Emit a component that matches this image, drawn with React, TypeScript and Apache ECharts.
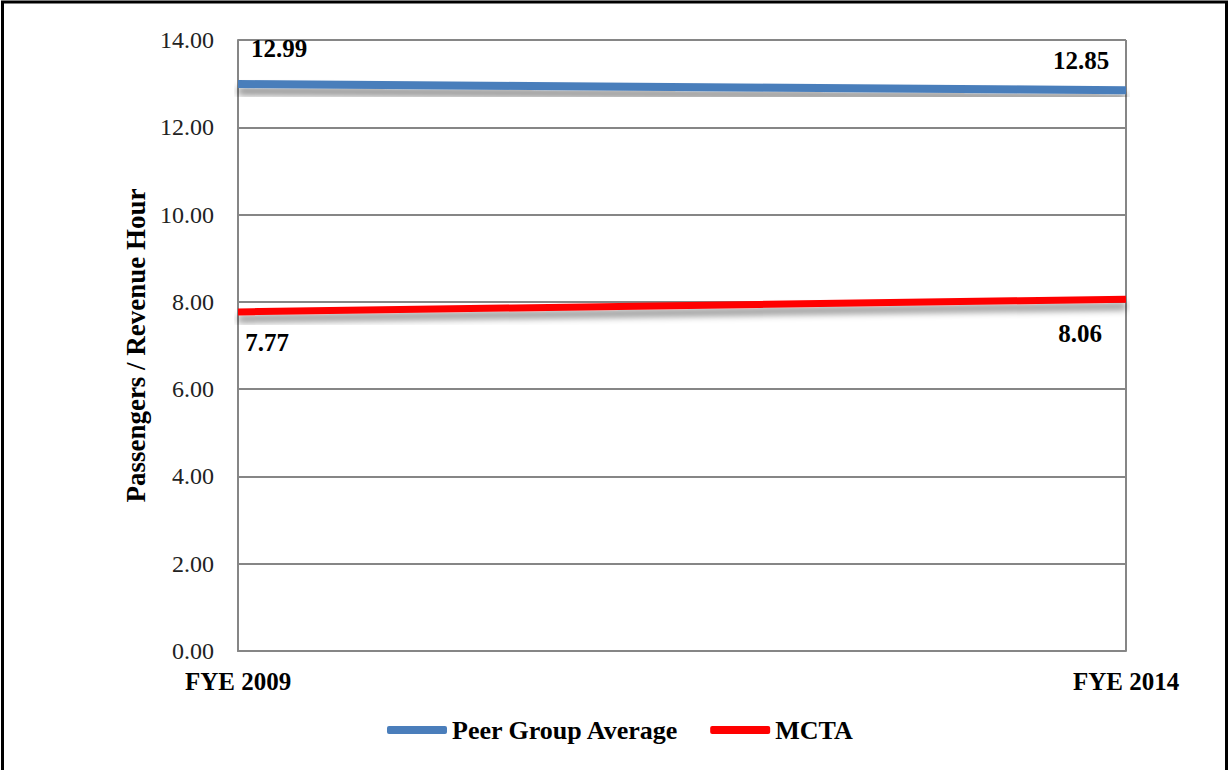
import React, { useEffect, useRef } from "react";
import * as echarts from "echarts";

const categories = ["FYE 2009", "FYE 2014"];
const peerValues = [12.99, 12.85];
const mctaValues = [7.77, 8.06];
const seriesNames = ["Peer Group Average", "MCTA"];
const yAxisTitle = "Passengers / Revenue Hour";

const FONT = "'Liberation Serif', 'Times New Roman', serif";

export default function App() {
  const ref = useRef<HTMLDivElement>(null);
  useEffect(() => {
    document.body.style.margin = "0";
    const chart = echarts.init(ref.current!, null, { renderer: "svg" });
    const shadow = {
      shadowColor: "rgba(0,0,0,0.45)",
      shadowBlur: 7,
      shadowOffsetY: 7,
    };
    const peerOffsets = [
      [41, -36],
      [-45, -30],
    ];
    const mctaOffsets = [
      [29, 31],
      [-46, 34],
    ];
    const lbl = {
      show: true,
      position: "inside",
      fontFamily: FONT,
      fontWeight: "bold",
      fontSize: 25,
      color: "#000",
      formatter: (p: any) => p.value.toFixed(2),
    };
    chart.setOption({
      animation: false,
      backgroundColor: "#fff",
      grid: { left: 238, right: 105, top: 40, bottom: 119 },
      legend: {
        bottom: 22,
        left: 382,
        itemWidth: 60,
        itemHeight: 8,
        itemGap: 31,
        icon: "roundRect",
        textStyle: { fontFamily: FONT, fontWeight: "bold", fontSize: 26, color: "#000" },
        data: seriesNames,
      },
      xAxis: {
        type: "category",
        data: categories,
        boundaryGap: false,
        axisLine: { lineStyle: { color: "#868686", width: 2 } },
        axisTick: { show: false },
        splitLine: { show: true, lineStyle: { color: "#868686", width: 2 } },
        axisLabel: {
          fontFamily: FONT,
          fontWeight: "bold",
          fontSize: 25,
          color: "#000",
          margin: 18,
        },
      },
      yAxis: {
        type: "value",
        min: 0,
        max: 14,
        interval: 2,
        name: yAxisTitle,
        nameLocation: "middle",
        nameGap: 85,
        nameTextStyle: { fontFamily: FONT, fontWeight: "bold", fontSize: 27, color: "#000" },
        axisLine: { show: true, lineStyle: { color: "#868686", width: 2 } },
        axisTick: { show: false },
        splitLine: { lineStyle: { color: "#868686", width: 2 } },
        axisLabel: {
          fontFamily: FONT,
          fontSize: 24,
          color: "#222",
          margin: 24,
          formatter: (v: number) => v.toFixed(2),
        },
      },
      series: [
        {
          name: seriesNames[0],
          type: "line",
          data: peerValues.map((v, i) => ({
            value: v,
            label: { ...lbl, offset: peerOffsets[i] },
          })),
          symbol: "circle",
          symbolSize: 0.1,
          showSymbol: true,
          color: "#4a7ebb",
          lineStyle: { color: "#4a7ebb", width: 8, ...shadow },
          z: 3,
        },
        {
          name: seriesNames[1],
          type: "line",
          data: mctaValues.map((v, i) => ({
            value: v,
            label: { ...lbl, offset: mctaOffsets[i] },
          })),
          symbol: "circle",
          symbolSize: 0.1,
          showSymbol: true,
          color: "#ff0000",
          lineStyle: { color: "#ff0000", width: 7, ...shadow },
          z: 3,
        },
      ],
      graphic: [
        {
          type: "rect",
          shape: { x: 2.5, y: 2, width: 1224, height: 900 },
          style: { fill: "none", stroke: "#000", lineWidth: 3 },
          silent: true,
        },
      ],
    });
    return () => chart.dispose();
  }, []);
  return <div ref={ref} style={{ width: 1231, height: 770 }} />;
}
